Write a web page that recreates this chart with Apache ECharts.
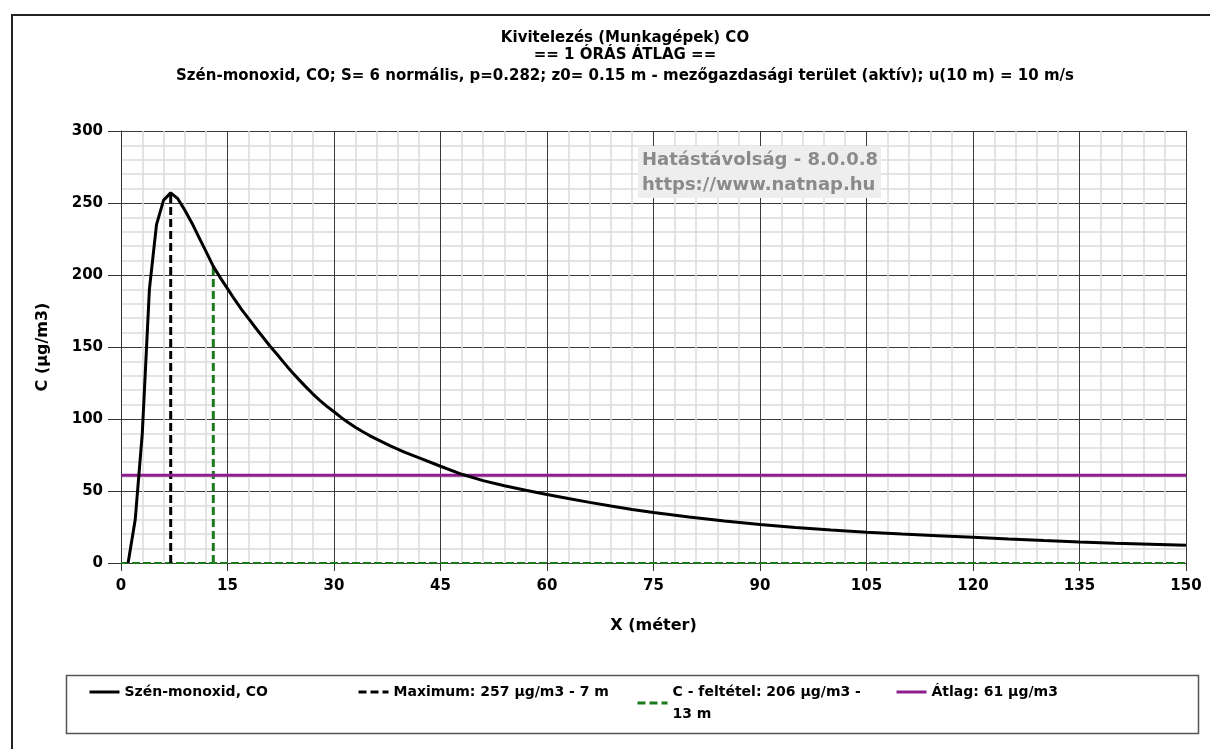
<!DOCTYPE html>
<html>
<head>
<meta charset="utf-8">
<script src="https://cdn.jsdelivr.net/npm/echarts@6/dist/echarts.min.js"></script>
<style>html,body{margin:0;padding:0;background:#fff;}#c{width:1210px;height:749px;}</style>
</head>
<body>
<div id="c"></div>
<script>
// ---- data ----
const titleLines = [
  'Kivitelezés (Munkagépek) CO',
  '== 1 ÓRÁS ÁTLAG ==',
  'Szén-monoxid, CO; S= 6 normális, p=0.282; z0= 0.15 m - mezőgazdasági terület (aktív); u(10 m) = 10 m/s'
];
const distances = [1,2,3,4,5,6,7,8,9,10,11,12,13,14,15,16,17,18,19,20,21,22,23,24,25,26,27,28,29,30,31,32,33,34,35,36,38,40,42,45,48,51,54,57,60,63,66,69,72,75,80,85,90,95,100,105,110,115,120,125,130,135,140,145,150];
const concentrations = [0,30,90,190,235,252,257,253,245,236,226,216,206,198,190.5,183,176,169.5,163,156.8,150.5,144.8,138.8,133,127.7,122.5,117.5,113,108.8,105,101.1,97.6,94.3,91.3,88.5,86,81.2,76.8,73,67.2,61.6,57.2,53.6,50.5,47.6,44.8,42.1,39.6,37.2,35,32,29.2,26.7,24.6,22.9,21.4,20.1,19,17.9,16.7,15.6,14.6,13.8,13.1,12.4];
const maxX = 7, maxC = 257;
const condX = 13, condC = 206;
const avgC = 61;
const xMin = 0, xMax = 150, xStep = 15;
const yMin = 0, yMax = 300, yStep = 50;
const seriesNames = [
  'Szén-monoxid, CO',
  'Maximum: 257 µg/m3 - 7 m',
  'C - feltétel: 206 µg/m3 -\n13 m',
  'Átlag: 61 µg/m3'
];
const watermarkLines = ['Hatástávolság - 8.0.0.8', 'https://www.natnap.hu'];
const xName = 'X (méter)', yName = 'C (µg/m3)';

// ---- chart ----
const FONT = '"DejaVu Sans", sans-serif';
const chart = echarts.init(document.getElementById('c'), null, {renderer: 'canvas'});
const curve = distances.map((x, i) => [x, concentrations[i]]);
const green = '#1b7a1b', purple = '#8e1e8e';

const legendBase = {
  padding: 0, itemWidth: 30, itemHeight: 14,
  itemStyle: {opacity: 0, borderWidth: 0},
  lineStyle: {width: 3},
  textStyle: {fontFamily: FONT, fontWeight: 'bold', fontSize: 14, color: '#000', lineHeight: 22}
};

const option = {
  animation: false,
  backgroundColor: '#fff',
  title: titleLines.map((t, i) => ({
    text: t, left: 625, top: [29, 46, 67][i], padding: 0, textAlign: 'center',
    textStyle: {fontFamily: FONT, fontWeight: 'bold', fontSize: 15, color: '#000', lineHeight: 18}
  })),
  grid: {left: 121, top: 131, width: 1065, height: 432, containLabel: false},
  xAxis: {
    type: 'value', min: xMin, max: xMax, interval: xStep,
    name: xName, nameLocation: 'middle', nameGap: 55,
    nameTextStyle: {fontFamily: FONT, fontWeight: 'bold', fontSize: 16, color: '#000'},
    axisLine: {show: true, onZero: false, lineStyle: {color: '#333', width: 1}},
    axisTick: {show: true, length: 8, lineStyle: {color: '#333'}},
    axisLabel: {margin: 16, fontFamily: FONT, fontWeight: 'bold', fontSize: 15, color: '#000'},
    splitLine: {show: true, lineStyle: {color: '#3a3a3a', width: 1}},
    minorTick: {show: false, splitNumber: 5},
    minorSplitLine: {show: true, lineStyle: {color: '#dcdcdc', width: 1.5}}
  },
  yAxis: {
    type: 'value', min: yMin, max: yMax, interval: yStep,
    name: yName, nameLocation: 'middle', nameGap: 70, nameRotate: 90,
    nameTextStyle: {fontFamily: FONT, fontWeight: 'bold', fontSize: 16, color: '#000'},
    axisLine: {show: true, lineStyle: {color: '#333', width: 1}},
    axisTick: {show: true, length: 13, lineStyle: {color: '#333'}},
    axisLabel: {margin: 18, fontFamily: FONT, fontWeight: 'bold', fontSize: 15, color: '#000'},
    splitLine: {show: true, lineStyle: {color: '#3a3a3a', width: 1}},
    minorTick: {show: false, splitNumber: 5},
    minorSplitLine: {show: true, lineStyle: {color: '#dcdcdc', width: 1.5}}
  },
  legend: [
    Object.assign({}, legendBase, {data: [seriesNames[0]], left: 88, top: 681}),
    Object.assign({}, legendBase, {data: [seriesNames[1]], left: 357, top: 681}),
    Object.assign({}, legendBase, {data: [seriesNames[2]], left: 636, top: 681}),
    Object.assign({}, legendBase, {data: [seriesNames[3]], left: 895, top: 681})
  ],
  graphic: [
    {type: 'rect', silent: true, shape: {x: 12, y: 15, width: 1300, height: 800},
     style: {fill: 'none', stroke: '#222', lineWidth: 2}, z: 100},
    {type: 'rect', silent: true, shape: {x: 66.5, y: 675.5, width: 1132, height: 58},
     style: {fill: 'none', stroke: '#555', lineWidth: 1.5}, z: 100},
    {type: 'rect', silent: true, shape: {x: 638, y: 146, width: 243, height: 52},
     style: {fill: '#eeeeee'}, z: 50},
    {type: 'text', silent: true, x: 642, y: 160, z: 51,
     style: {text: watermarkLines[0], font: 'bold 18px ' + FONT, fill: '#8a8a8a', verticalAlign: 'middle'}},
    {type: 'text', silent: true, x: 642, y: 185, z: 51,
     style: {text: watermarkLines[1], font: 'bold 18px ' + FONT, fill: '#8a8a8a', verticalAlign: 'middle'}}
  ],
  series: [
    {name: seriesNames[0], type: 'line', data: curve, symbol: 'none', z: 5,
     itemStyle: {color: '#000'}, lineStyle: {color: '#000', width: 3}},
    {name: seriesNames[1], type: 'line', data: [[maxX, 0], [maxX, maxC]], symbol: 'none', z: 4,
     itemStyle: {color: '#000'}, lineStyle: {color: '#000', width: 3, type: [8, 4]}},
    {name: seriesNames[2], type: 'line', data: [[condX, 0], [condX, condC]], symbol: 'none', z: 4,
     itemStyle: {color: green}, lineStyle: {color: green, width: 3, type: [8, 4]}},
    {name: 'C-baseline', type: 'line', data: [[xMin, 0], [xMax, 0]], symbol: 'none', z: 3,
     itemStyle: {color: green}, lineStyle: {color: green, width: 2, type: [8, 3]}},
    {name: seriesNames[3], type: 'line', data: [[xMin, avgC], [xMax, avgC]], symbol: 'none', z: 4,
     itemStyle: {color: purple}, lineStyle: {color: purple, width: 3}}
  ]
};
chart.setOption(option);
</script>
</body>
</html>
